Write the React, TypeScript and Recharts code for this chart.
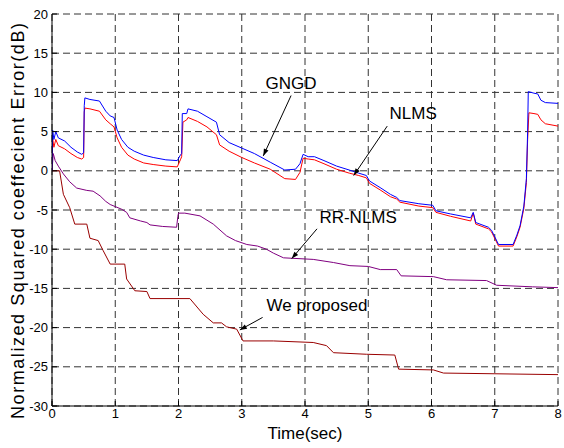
import React from 'react';
import { LineChart, Line, XAxis, YAxis, CartesianGrid, ReferenceLine, ReferenceDot } from 'recharts';

// time axis ticks (sec) and error ticks (dB)
const timeTicks = [0, 1, 2, 3, 4, 5, 6, 7, 8];
const errorTicks = [-30, -25, -20, -15, -10, -5, 0, 5, 10, 15, 20];

// GNGD (blue)
const gngdTime = [0, 0.01, 0.03, 0.06, 0.1, 0.2, 0.3, 0.4, 0.47, 0.5, 0.51, 0.52, 0.6, 0.75, 0.85, 0.92, 0.98, 1.03, 1.1, 1.2, 1.3, 1.45, 1.6, 1.8, 1.98, 2.03, 2.05, 2.06, 2.13, 2.15, 2.3, 2.45, 2.6, 2.65, 2.8, 3.0, 3.2, 3.45, 3.68, 3.85, 3.92, 3.97, 4.05, 4.15, 4.3, 4.5, 4.7, 4.85, 4.97, 5.02, 5.2, 5.35, 5.45, 5.5, 5.8, 6.02, 6.07, 6.3, 6.62, 6.66, 6.7, 6.9, 6.95, 7.06, 7.29, 7.35, 7.4, 7.46, 7.5, 7.52, 7.53, 7.62, 7.68, 7.73, 7.8, 8.0];
const gngdDb = [0, 5.2, 4.0, 5.0, 4.2, 3.8, 3.0, 2.4, 2.1, 2.3, 8.3, 9.3, 9.1, 8.9, 7.6, 7.0, 6.8, 5.2, 4.0, 3.0, 2.5, 2.0, 1.7, 1.4, 1.3, 2.0, 2.2, 7.3, 7.3, 7.9, 7.6, 6.9, 6.2, 4.6, 3.6, 2.9, 2.2, 1.1, 0.1, 0.2, 0.9, 2.1, 1.8, 1.8, 1.3, 0.6, 0.1, -0.3, -0.6, -1.3, -2.2, -3.0, -3.4, -3.8, -4.2, -4.4, -5.1, -5.5, -6.0, -5.3, -6.6, -7.2, -7.6, -9.4, -9.4, -8.2, -7.0, -4.5, -1.0, 5.0, 10.1, 9.9, 9.8, 9.0, 8.7, 8.6];

// NLMS (red)
const nlmsTime = [0, 0.01, 0.03, 0.06, 0.1, 0.2, 0.3, 0.4, 0.47, 0.5, 0.51, 0.52, 0.6, 0.75, 0.85, 0.92, 0.98, 1.03, 1.1, 1.2, 1.3, 1.45, 1.6, 1.8, 1.98, 2.03, 2.05, 2.07, 2.13, 2.15, 2.3, 2.45, 2.6, 2.65, 2.8, 3.0, 3.2, 3.45, 3.68, 3.85, 3.92, 3.97, 4.05, 4.15, 4.3, 4.5, 4.7, 4.85, 4.97, 5.02, 5.2, 5.35, 5.45, 5.5, 5.8, 6.02, 6.07, 6.3, 6.62, 6.66, 6.7, 6.9, 6.95, 7.06, 7.29, 7.35, 7.4, 7.46, 7.5, 7.52, 7.54, 7.62, 7.68, 7.73, 7.8, 8.0];
const nlmsDb = [0, 4.1, 3.0, 4.0, 3.2, 2.8, 2.2, 1.7, 1.5, 1.7, 7.5, 8.0, 7.9, 7.6, 6.5, 6.0, 5.6, 4.2, 3.0, 2.0, 1.5, 1.0, 0.8, 0.6, 0.5, 1.4, 1.8, 6.2, 6.5, 6.8, 6.3, 5.6, 4.6, 3.3, 2.5, 1.7, 1.0, 0.2, -1.0, -1.1, -0.2, 1.6, 1.5, 1.4, 0.9, 0.2, -0.3, -0.6, -0.9, -1.6, -2.5, -3.3, -3.6, -4.0, -4.5, -4.7, -5.3, -5.8, -6.4, -5.4, -6.8, -7.4, -7.8, -9.6, -9.6, -8.4, -7.2, -4.8, -1.5, 4.0, 7.4, 7.3, 7.2, 6.5, 6.0, 5.7];

// RR-NLMS (purple)
const rrTime = [0, 0.02, 0.05, 0.1, 0.18, 0.28, 0.39, 0.55, 0.65, 0.76, 0.85, 0.92, 1.1, 1.18, 1.23, 1.4, 1.5, 1.55, 1.75, 1.97, 1.99, 2.0, 2.1, 2.34, 2.45, 2.55, 2.76, 2.9, 3.08, 3.25, 3.39, 3.5, 3.66, 4.13, 4.45, 4.71, 5.0, 5.19, 5.45, 5.52, 6.03, 6.24, 6.87, 7.03, 7.6, 8.0];
const rrDb = [0, 2.2, 1.3, 0.6, -0.4, -1.4, -2.2, -2.5, -2.6, -3.2, -3.9, -4.3, -4.9, -5.3, -6.0, -6.4, -6.6, -6.9, -7.1, -7.2, -5.8, -5.4, -5.4, -5.75, -6.3, -6.8, -8.3, -8.9, -9.4, -9.6, -10.0, -10.5, -11.1, -11.3, -11.7, -12.1, -12.2, -12.6, -12.6, -13.4, -13.5, -13.9, -14.0, -14.6, -14.8, -14.9];

// We proposed (dark red)
const propTime = [0, 0.12, 0.18, 0.28, 0.36, 0.55, 0.6, 0.73, 0.81, 0.92, 1.15, 1.18, 1.31, 1.5, 1.55, 2.18, 2.39, 2.55, 2.68, 2.76, 2.92, 3.02, 3.5, 4.13, 4.34, 4.45, 4.97, 5.42, 5.48, 6.03, 6.19, 8.0];
const propDb = [0, 0, -3.0, -4.7, -6.8, -6.8, -8.6, -8.9, -10.2, -11.9, -11.9, -13.8, -15.3, -15.4, -16.3, -16.3, -18.3, -19.4, -19.4, -19.9, -20.2, -21.7, -21.7, -21.9, -22.3, -23.2, -23.4, -23.5, -25.3, -25.4, -25.8, -26.0];

// annotations: label position and arrow (from -> tip), in data units
const notes = [
  { text: 'GNGD', t: 3.78, v: 11.2, from: [3.78, 9.6], to: [3.34, 1.9] },
  { text: 'NLMS', t: 5.71, v: 7.4, from: [5.3, 5.7], to: [4.77, -0.6] },
  { text: 'RR-NLMS', t: 4.84, v: -5.9, from: [4.19, -7.4], to: [3.79, -11.2] },
  { text: 'We proposed', t: 4.19, v: -17.1, from: [3.33, -18.7], to: [2.97, -20.3] },
];

const zip = (ts: number[], vs: number[]) => ts.map((t, i) => ({ t, v: vs[i] }));

const FONT = "Arial, 'Liberation Sans', sans-serif";

const Arrow = (props: any) => {
  const { x1, y1, x2, y2 } = props;
  const ang = Math.atan2(y2 - y1, x2 - x1);
  const len = 7;
  const w = 2.5;
  const bx = x2 - len * Math.cos(ang);
  const by = y2 - len * Math.sin(ang);
  const px = -Math.sin(ang) * w;
  const py = Math.cos(ang) * w;
  return (
    <g>
      <line x1={x1} y1={y1} x2={x2} y2={y2} stroke="#000" strokeWidth={1} />
      <polygon points={`${x2},${y2} ${bx + px},${by + py} ${bx - px},${by - py}`} fill="#000" />
    </g>
  );
};

const YLabel = (props: any) => {
  const { viewBox } = props;
  const cx = viewBox.x + 24;
  const cy = viewBox.y + viewBox.height / 2 + 11;
  return (
    <text
      x={cx}
      y={cy}
      transform={`rotate(-90 ${cx} ${cy})`}
      textAnchor="middle"
      fontSize={18}
      fontFamily={FONT}
      fill="#000"
      textLength={396}
      lengthAdjust="spacing"
    >
      Normalized Squared coeffecient Error(dB)
    </text>
  );
};

export default function App() {
  return (
    <div style={{ position: 'absolute', left: 0, top: 0, width: 564, height: 448, background: '#fff' }}>
      <LineChart width={564} height={448} margin={{ top: 14, right: 6, bottom: 0, left: 0 }} style={{ fontFamily: FONT }}>
        <CartesianGrid stroke="#333" strokeDasharray="7 4" />
        <XAxis
          dataKey="t"
          type="number"
          domain={[0, 8]}
          ticks={timeTicks}
          allowDataOverflow
          height={42}
          stroke="#000"
          tickSize={-5}
          tickMargin={8}
          tick={{ fill: '#000', fontSize: 13 }}
          label={{ value: 'Time(sec)', position: 'insideBottom', offset: 9, fill: '#000', fontSize: 17 }}
        />
        <XAxis xAxisId="top" orientation="top" type="number" domain={[0, 8]} ticks={timeTicks} height={0} stroke="#000" tickSize={-5} tick={false} />
        <YAxis
          type="number"
          domain={[-30, 20]}
          ticks={errorTicks}
          allowDataOverflow
          width={52}
          stroke="#000"
          tickSize={-5}
          tickMargin={9}
          tick={{ fill: '#000', fontSize: 13 }}
          label={{ content: YLabel }}
        />
        <YAxis yAxisId="right" orientation="right" type="number" domain={[-30, 20]} ticks={errorTicks} width={0} stroke="#000" tickSize={-5} tick={false} />
        <Line data={zip(propTime, propDb)} dataKey="v" stroke="#990000" strokeWidth={1} dot={false} isAnimationActive={false} />
        <Line data={zip(rrTime, rrDb)} dataKey="v" stroke="#800080" strokeWidth={1} dot={false} isAnimationActive={false} />
        <Line data={zip(nlmsTime, nlmsDb)} dataKey="v" stroke="#ff0000" strokeWidth={1} dot={false} isAnimationActive={false} />
        <Line data={zip(gngdTime, gngdDb)} dataKey="v" stroke="#0000ff" strokeWidth={1} dot={false} isAnimationActive={false} />
        {notes.map((n) => (
          <ReferenceLine
            key={n.text + '-arrow'}
            segment={[{ x: n.from[0], y: n.from[1] }, { x: n.to[0], y: n.to[1] }]}
            shape={Arrow}
          />
        ))}
        {notes.map((n) => (
          <ReferenceDot
            key={n.text}
            x={n.t}
            y={n.v}
            r={0}
            fill="none"
            stroke="none"
            label={{ value: n.text, position: 'center', fill: '#000', fontSize: 17 }}
          />
        ))}
      </LineChart>
    </div>
  );
}
